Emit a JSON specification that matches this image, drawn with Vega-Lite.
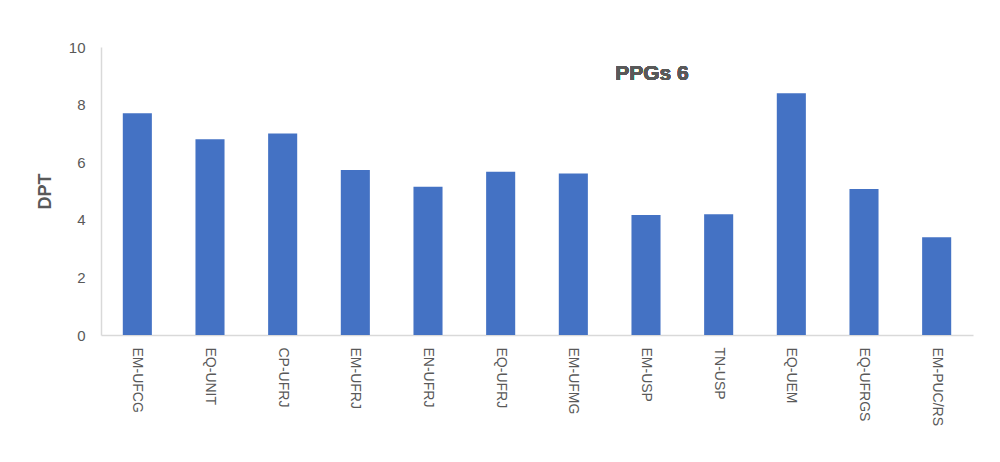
{
  "$schema": "https://vega.github.io/schema/vega-lite/v6.json",
  "width": 872,
  "height": 288,
  "autosize": {"type": "none"},
  "padding": {"left": 101, "top": 47, "right": 27, "bottom": 127},
  "background": "white",
  "config": {"view": {"stroke": null}, "font": "Liberation Sans"},
  "data": {
    "values": [
      {"ppg": "EM-UFCG", "dpt": 7.7},
      {"ppg": "EQ-UNIT", "dpt": 6.8},
      {"ppg": "CP-UFRJ", "dpt": 7.0},
      {"ppg": "EM-UFRJ", "dpt": 5.73},
      {"ppg": "EN-UFRJ", "dpt": 5.15},
      {"ppg": "EQ-UFRJ", "dpt": 5.67},
      {"ppg": "EM-UFMG", "dpt": 5.61},
      {"ppg": "EM-USP", "dpt": 4.17},
      {"ppg": "TN-USP", "dpt": 4.19},
      {"ppg": "EQ-UEM", "dpt": 8.39},
      {"ppg": "EQ-UFRGS", "dpt": 5.07},
      {"ppg": "EM-PUC/RS", "dpt": 3.39}
    ]
  },
  "layer": [
    {
      "mark": {"type": "bar", "color": "#4472C4"},
      "encoding": {
        "x": {
          "field": "ppg",
          "type": "nominal",
          "sort": null,
          "scale": {"paddingInner": 0.6, "paddingOuter": 0.3},
          "axis": {
            "title": null,
            "labelAngle": 90,
            "labelPadding": 12,
            "labelFontSize": 14,
            "labelColor": "#595959",
            "ticks": false,
            "domainColor": "#d9d9d9",
            "domainWidth": 1.5
          }
        },
        "y": {
          "field": "dpt",
          "type": "quantitative",
          "scale": {"domain": [0, 10]},
          "axis": {
            "title": "DPT",
            "titleFontSize": 18,
            "titleFontWeight": "bold",
            "titleColor": "#595959",
            "titlePadding": 14,
            "values": [0, 2, 4, 6, 8, 10],
            "grid": false,
            "ticks": false,
            "labelPadding": 16,
            "labelFontSize": 15,
            "labelColor": "#595959",
            "domainColor": "#d9d9d9",
            "domainWidth": 1.5
          }
        }
      }
    },
    {
      "mark": {"type": "text", "text": "PPGs 6", "fontSize": 21, "fontWeight": "bold", "color": "#595959", "dx": 6, "baseline": "middle"},
      "encoding": {
        "x": {"datum": "EM-USP", "type": "nominal"},
        "y": {"datum": 9.05, "type": "quantitative"}
      }
    }
  ]
}
